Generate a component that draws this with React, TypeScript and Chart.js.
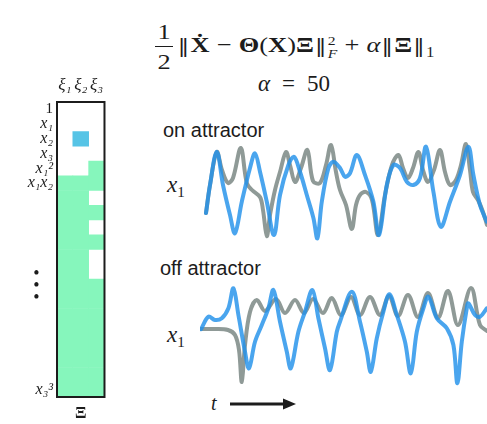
import React, { useEffect, useRef } from 'react';
import { Chart, registerables } from 'chart.js';

Chart.register(...registerables);

const SERIF = '"Liberation Serif", "DejaVu Serif", serif';
const NORM_FONT = '"DejaVu Serif", serif';
const SANS = '"Liberation Sans", Arial, sans-serif';
const INK = '#1c1c1c';

// ---- coefficient matrix (20 library terms x 3 equations) ----
const COLUMN_LABELS = ['ξ₁', 'ξ₂', 'ξ₃'];
const ROW_LABELS: (string | string[])[] = [
  '1', 'x₁', 'x₂', 'x₃', 'x₁²', 'x₁x₂', '', '', '', '', '', '',
  ['•   ', '•   ', '•   '], '', '', '', '', '', '', 'x₃³',
];
// 0 = zero, 1 = active (green), 2 = active (blue)
const XI1 = [0, 0, 0, 0, 0, 1, 1, 1, 1, 1, 1, 1, 1, 1, 1, 1, 1, 1, 1, 1];
const XI2 = [0, 0, 2, 0, 0, 1, 1, 1, 1, 1, 1, 1, 1, 1, 1, 1, 1, 1, 1, 1];
const XI3 = [0, 0, 0, 0, 1, 1, 0, 1, 0, 1, 0, 0, 1, 1, 1, 1, 1, 1, 1, 1];
const CELL_COLORS = ['rgba(255,255,255,0)', '#86f6bc', '#56c4e6'];

// ---- on attractor: x1 vs t ----
const ON_TRUE_T = [0.3, 0.5, 0.84, 1.1, 1.4, 1.65, 2.04, 2.34, 2.6, 3.0, 3.15, 3.34, 3.5, 3.75, 4.0, 4.3, 4.5, 4.75, 5.05, 5.37, 5.65, 6.0, 6.3, 6.55, 6.8, 7.0, 7.3, 7.59, 7.8, 8.0, 8.3, 8.6, 8.9, 9.25, 9.6, 9.92, 10.15, 10.4, 10.65, 10.92, 11.15, 11.4, 11.7, 12.0, 12.25, 12.5, 12.8, 13.05, 13.3, 13.5, 13.65, 13.9, 14.15, 14.35];
const ON_TRUE_X1 = [-7.2, 4.0, 17.2, 10.0, 4.8, 6.8, 18.8, 4.8, 2.0, -0.8, -6.0, -16.4, -8.0, 2.0, 9.2, 17.2, 12.0, 5.2, 10.8, 18.0, 5.6, 4.8, 12.0, 20.0, 9.2, 2.0, -4.0, -13.6, -4.0, 0.0, 1.2, -2.0, -16.0, 0.0, 12.0, 16.0, 10.8, 6.8, 10.8, 17.2, 10.0, 5.2, 10.0, 18.0, 9.2, 4.0, 6.0, 12.0, 20.4, 10.0, 1.2, -2.0, -6.8, -12.0];
const ON_MODEL_T = [0.3, 0.5, 0.84, 1.15, 1.5, 1.75, 2.09, 2.5, 2.75, 3.0, 3.34, 3.7, 4.0, 4.42, 4.7, 5.0, 5.34, 5.67, 5.87, 6.09, 6.42, 6.67, 7.0, 7.25, 7.5, 7.84, 8.25, 8.67, 8.95, 9.34, 9.67, 10.0, 10.34, 10.67, 11.0, 11.3, 11.67, 12.04, 12.5, 13.0, 13.42, 13.67, 14.0, 14.34];
const ON_MODEL_X1 = [-7.2, 4.0, 17.3, 4.0, -8.0, -15.3, -2.7, 10.8, 16.7, 9.3, -2.7, -16.0, 0.0, 12.0, 15.3, 9.3, 0.0, -9.2, -17.3, -2.7, 10.7, 13.3, 10.8, 7.3, 8.7, 16.0, 8.0, -2.7, -16.0, 4.0, 12.0, 10.8, 5.3, 4.0, 6.8, 19.3, 1.3, -12.7, -2.7, 8.0, 19.3, 8.0, -4.0, -10.7];

// ---- off attractor: x1 vs t ----
const OFF_TRUE_T = [0.05, 0.75, 1.4, 1.75, 1.95, 2.09, 2.25, 2.5, 2.84, 3.25, 3.8, 4.25, 4.75, 5.2, 5.65, 6.15, 6.59, 7.05, 7.55, 8.0, 8.5, 9.0, 9.45, 9.9, 10.4, 10.9, 11.4, 11.9, 12.4, 12.9, 13.55, 14.0, 14.35];
const OFF_TRUE_X1 = [2.4, 2.4, 2.0, 0.0, -6.0, -18.8, -4.0, 9.2, 14.0, 9.6, 14.4, 8.8, 14.0, 8.8, 14.4, 8.8, 14.8, 8.0, 15.2, 8.0, 15.2, 8.0, 15.6, 7.6, 16.0, 7.2, 16.8, 6.8, 17.6, 4.0, 18.8, 4.0, 1.6];
const OFF_MODEL_T = [0.05, 0.42, 0.75, 1.09, 1.42, 1.67, 1.92, 2.25, 2.45, 2.75, 3.09, 3.42, 3.67, 4.0, 4.34, 4.54, 4.92, 5.25, 5.62, 5.92, 6.25, 6.5, 6.84, 7.0, 7.59, 8.0, 8.34, 8.54, 8.84, 9.17, 9.47, 9.84, 10.25, 10.54, 10.84, 11.17, 11.42, 11.84, 12.34, 12.67, 12.87, 13.09, 13.34, 13.42, 13.75, 14.0, 14.34];
const OFF_MODEL_X1 = [2.3, 7.3, 6.0, 6.7, 10.7, 18.7, 8.0, -6.7, -13.3, -2.7, 4.0, 10.7, 18.0, 5.3, -6.7, -13.3, 1.3, 9.3, 18.0, 6.7, -5.3, -14.0, 1.3, 5.3, 17.3, 5.3, -6.7, -14.7, -1.3, 9.3, 16.3, 8.0, -2.7, -15.3, 1.3, 10.7, 15.3, 6.7, 2.7, -4.0, -19.3, -2.7, 10.7, 12.7, 8.0, 7.3, 10.7];

const T_MAX = 14.35;
const TRUE_COLOR = 'rgb(143,154,151)';
const MODEL_COLOR = 'rgba(34,145,234,0.82)';

const boxPlugin = {
  id: 'matrixBox',
  afterDatasetsDraw(chart: any) {
    const { ctx, chartArea } = chart;
    ctx.save();
    ctx.strokeStyle = INK;
    ctx.lineWidth = 2;
    ctx.strokeRect(chartArea.left, chartArea.top, chartArea.right - chartArea.left, chartArea.bottom - chartArea.top);
    ctx.restore();
  },
};

function matrixConfig(): any {
  const datasets = ROW_LABELS.map((_, i) => ({
    data: [1, 1, 1],
    backgroundColor: [CELL_COLORS[XI1[i]], CELL_COLORS[XI2[i]], CELL_COLORS[XI3[i]]],
    borderWidth: 0,
    barPercentage: 1,
    categoryPercentage: 1,
    stack: 'xi',
  }));
  return {
    type: 'bar',
    data: { labels: COLUMN_LABELS, datasets },
    options: {
      responsive: false,
      animation: false,
      layout: { padding: { left: 0, right: 5, top: 0, bottom: 0 } },
      plugins: { legend: { display: false }, tooltip: { enabled: false } },
      scales: {
        x: {
          position: 'top',
          stacked: true,
          grid: { display: false, drawTicks: false },
          border: { display: false },
          ticks: {
            autoSkip: false,
            color: INK,
            padding: 6,
            maxRotation: 0,
            minRotation: 0,
            font: { family: SERIF, size: 17, style: 'italic' },
          },
          afterFit: (s: any) => { s.height = 32; },
        },
        xb: {
          axis: 'x',
          type: 'category',
          position: 'bottom',
          grid: { display: false, drawTicks: false },
          border: { display: false },
          ticks: { display: false },
          title: {
            display: true,
            text: 'Ξ',
            color: INK,
            padding: 0,
            font: { family: SERIF, size: 17, weight: 'bold' },
          },
          afterFit: (s: any) => { s.height = 27; },
        },
        y: {
          type: 'linear',
          stacked: true,
          reverse: true,
          min: 0,
          max: ROW_LABELS.length,
          grid: { display: false, drawTicks: false },
          border: { display: false },
          afterBuildTicks: (s: any) => {
            s.ticks = ROW_LABELS.map((_, i) => ({ value: i + 0.5 }));
          },
          ticks: {
            autoSkip: false,
            color: INK,
            padding: 4,
            callback: (v: number) => ROW_LABELS[Math.floor(v)],
            font: (c: any) => {
              const lab = ROW_LABELS[c.index];
              if (Array.isArray(lab)) return { family: SERIF, size: 18, lineHeight: 0.68 };
              if (lab === '1') return { family: SERIF, size: 15 };
              return { family: SERIF, size: 16, style: 'italic' };
            },
          },
          afterFit: (s: any) => { s.width = 57; },
        },
      },
    },
    plugins: [boxPlugin],
  };
}

function lineConfig(trueT: number[], trueX: number[], modelT: number[], modelX: number[], yMin: number, yMax: number): any {
  return {
    type: 'line',
    data: {
      datasets: [
        {
          data: modelT.map((t, i) => ({ x: t, y: modelX[i] })),
          borderColor: MODEL_COLOR,
          order: 1,
        },
        {
          data: trueT.map((t, i) => ({ x: t, y: trueX[i] })),
          borderColor: TRUE_COLOR,
          order: 2,
        },
      ],
    },
    options: {
      responsive: false,
      animation: false,
      layout: { padding: 0 },
      elements: {
        point: { radius: 0 },
        line: { borderWidth: 4, tension: 0.35, borderCapStyle: 'round', borderJoinStyle: 'round', fill: false },
      },
      plugins: { legend: { display: false }, tooltip: { enabled: false } },
      scales: {
        x: { type: 'linear', display: false, min: 0, max: T_MAX },
        y: { type: 'linear', display: false, min: yMin, max: yMax },
      },
    },
  };
}

const abs = (left: number, top: number): React.CSSProperties => ({ position: 'absolute', left, top });
const Norm = () => <span style={{ fontFamily: NORM_FONT, fontWeight: 'normal', fontSize: 19, margin: '0 1px' }}>‖</span>;

export default function App() {
  const mRef = useRef<HTMLCanvasElement>(null);
  const onRef = useRef<HTMLCanvasElement>(null);
  const offRef = useRef<HTMLCanvasElement>(null);

  useEffect(() => {
    const charts: Chart[] = [];
    if (mRef.current) charts.push(new Chart(mRef.current, matrixConfig()));
    if (onRef.current) charts.push(new Chart(onRef.current, lineConfig(ON_TRUE_T, ON_TRUE_X1, ON_MODEL_T, ON_MODEL_X1, -20, 24)));
    if (offRef.current) charts.push(new Chart(offRef.current, lineConfig(OFF_TRUE_T, OFF_TRUE_X1, OFF_MODEL_T, OFF_MODEL_X1, -22, 24)));
    return () => charts.forEach((c) => c.destroy());
  }, []);

  const x1Label = (top: number) => (
    <div style={{ ...abs(167, top), fontFamily: SERIF, fontSize: 23, lineHeight: '23px', color: INK }}>
      <i>x</i>
      <span style={{ fontSize: 15, position: 'relative', top: 5 }}>1</span>
    </div>
  );

  return (
    <div style={{ position: 'fixed', left: 0, top: 0, width: 487, height: 424, background: '#fff', overflow: 'hidden' }}>
      {/* objective */}
      <div
        style={{
          ...abs(155, 21),
          fontFamily: SERIF,
          fontSize: 22,
          lineHeight: '22px',
          color: INK,
          whiteSpace: 'nowrap',
          transform: 'scaleX(1.2)',
          transformOrigin: 'left top',
        }}
      >
        <span style={{ display: 'inline-block', verticalAlign: 'middle', textAlign: 'center', marginRight: 3 }}>
          <span style={{ display: 'block', padding: '0 2px 3px' }}>1</span>
          <span style={{ display: 'block', borderTop: `1.3px solid ${INK}`, padding: '4px 2px 0' }}>2</span>
        </span>
        <Norm />
        <b>X&#775;</b>
        <span style={{ margin: '0 6px' }}>−</span>
        <b>Θ</b>(<b>X</b>)<b>Ξ</b>
        <Norm />
        <span style={{ display: 'inline-block', verticalAlign: 'middle', fontSize: 13, lineHeight: '13px', textAlign: 'left' }}>
          <span style={{ display: 'block' }}>2</span>
          <i style={{ display: 'block' }}>F</i>
        </span>
        <span style={{ margin: '0 6px' }}>+</span>
        <i>α</i>
        <Norm />
        <b>Ξ</b>
        <Norm />
        <span style={{ fontSize: 14, position: 'relative', top: 5 }}>1</span>
      </div>
      <div style={{ ...abs(258, 72), fontFamily: SERIF, fontSize: 23, lineHeight: '23px', color: INK, whiteSpace: 'nowrap' }}>
        <i>α</i>
        <span style={{ margin: '0 12px' }}>=</span>
        50
      </div>

      {/* coefficient matrix */}
      <canvas ref={mRef} width={110} height={354} style={{ ...abs(0, 70), display: 'block' }} />

      {/* on attractor */}
      <div style={{ ...abs(163, 120), fontFamily: SANS, fontSize: 20, lineHeight: '20px', color: INK, whiteSpace: 'nowrap' }}>on attractor</div>
      {x1Label(173)}
      <canvas ref={onRef} width={287} height={110} style={{ ...abs(200, 135), display: 'block' }} />

      {/* off attractor */}
      <div style={{ ...abs(160, 258), fontFamily: SANS, fontSize: 20, lineHeight: '20px', color: INK, whiteSpace: 'nowrap' }}>off attractor</div>
      {x1Label(323)}
      <canvas ref={offRef} width={287} height={115} style={{ ...abs(200, 275), display: 'block' }} />

      {/* time arrow */}
      <div style={{ ...abs(211, 393), fontFamily: SERIF, fontSize: 20, lineHeight: '20px', color: INK }}>
        <i>t</i>
      </div>
      <svg style={abs(228, 397)} width={70} height={15}>
        <line x1={2} y1={7} x2={58} y2={7} stroke={INK} strokeWidth={3} />
        <polygon points="55,1.5 68,7 55,12.5" fill={INK} />
      </svg>
    </div>
  );
}
